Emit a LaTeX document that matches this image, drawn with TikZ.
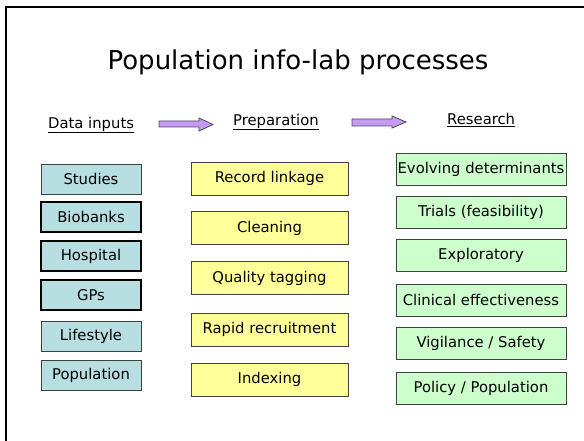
\documentclass[tikz,border=0pt]{standalone}
\usepackage{fontspec}
\setmainfont{DejaVu Sans}
\begin{document}
\begin{tikzpicture}[x=1pt,y=-1pt,
  base/.style={draw=black!75, line width=0.8pt, inner sep=0pt, font=\fontsize{14.8}{17}\selectfont},
  inbox/.style={base, fill=inputfill, minimum width=100pt, minimum height=30pt},
  thickbox/.style={inbox, draw=black, line width=1.8pt},
  prepbox/.style={base, fill=prepfill, minimum width=157pt, minimum height=33pt},
  resbox/.style={base, fill=resfill, minimum width=170pt, minimum height=32pt},
  head/.style={font=\fontsize{14.8}{17}\selectfont, inner sep=0pt},
  blockarrow/.style={draw=black!70, line width=0.8pt, fill=arrowfill}
]
\definecolor{inputfill}{RGB}{183,222,224}
\definecolor{prepfill}{RGB}{255,255,153}
\definecolor{resfill}{RGB}{204,255,204}
\definecolor{arrowfill}{RGB}{198,153,245}
\useasboundingbox (0,0) rectangle (584,441);
% frame
\draw[line width=2pt] (6,445) -- (6,7) -- (590,7);
% title
\node[font=\fontsize{26}{30}\selectfont, inner sep=0pt] (title) at (298,62) {Population info-lab processes};
% headers
\node[head, anchor=west] (hin) at (48,125) {\underline{Data inputs}};
\node[head, anchor=west] (hprep) at (233,122) {\underline{Preparation}};
\node[head, anchor=west] (hres) at (447,120) {\underline{Research}};
% block arrows
\draw[blockarrow] (159,121) -- (199,121) -- (199,118) -- (213,124.5) -- (199,131) -- (199,127) -- (159,127) -- cycle;
\draw[blockarrow] (352,119) -- (392,119) -- (392,116) -- (406,122) -- (392,128) -- (392,126) -- (352,126) -- cycle;
% inputs
\node[inbox] (studies) at (91,179) {Studies};
\node[thickbox] (biobanks) at (91,217) {Biobanks};
\node[thickbox] (hospital) at (91,256) {Hospital};
\node[thickbox] (gps) at (91,295) {GPs};
\node[inbox] (lifestyle) at (91,336) {Lifestyle};
\node[inbox] (population) at (91,375.5) {Population};
% preparation
\node[prepbox] (record) at (269.5,178.5) {Record linkage};
\node[prepbox] (cleaning) at (269.5,228) {Cleaning};
\node[prepbox] (quality) at (269.5,278) {Quality tagging};
\node[prepbox] (rapid) at (269.5,329.5) {Rapid recruitment};
\node[prepbox] (indexing) at (269.5,379.5) {Indexing};
% research
\node[resbox] (evolving) at (481,169) {Evolving determinants};
\node[resbox] (trials) at (481,212.5) {Trials (feasibility)};
\node[resbox] (exploratory) at (481,255) {Exploratory};
\node[resbox] (clinical) at (481,300) {Clinical effectiveness};
\node[resbox] (vigilance) at (481,343.5) {Vigilance / Safety};
\node[resbox] (policy) at (481,388.5) {Policy / Population};
\end{tikzpicture}
\end{document}
